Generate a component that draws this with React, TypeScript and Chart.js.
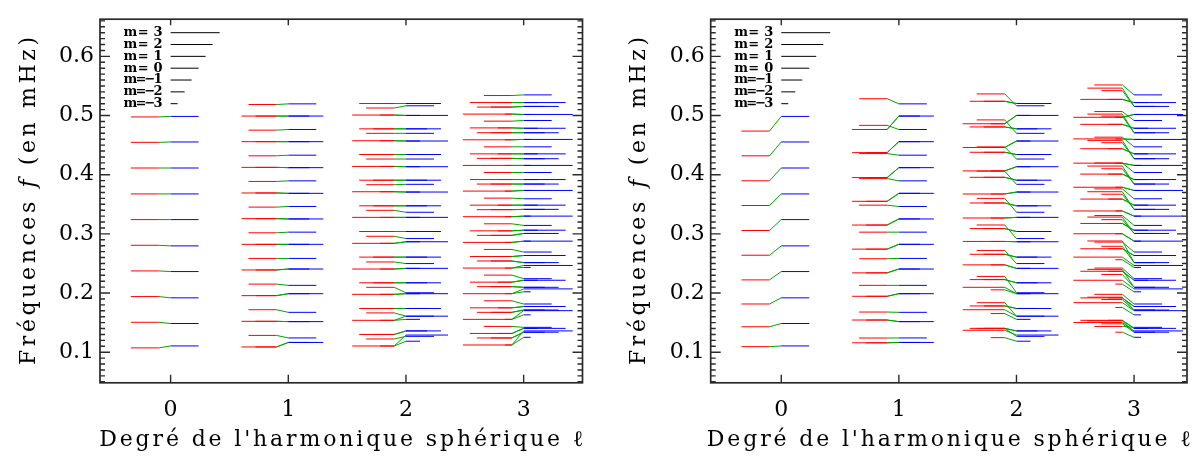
import React, { useEffect, useRef } from 'react';
import { Chart, registerables } from 'chart.js';

Chart.register(...registerables);

// ---------- axes ----------
const degreeTicks = [0, 1, 2, 3];
const freqMajorTicks = [0.1, 0.2, 0.3, 0.4, 0.5, 0.6];
const freqMin = 0.0483;
const freqMax = 0.6628;
const degreeMin = -0.6;
const degreeMaxLeft = 3.5;
const degreeMaxRight = 3.45;

// ---------- legend ----------
const legendOrders = [3, 2, 1, 0, -1, -2, -3];
const legendLabels = ['m= 3', 'm= 2', 'm= 1', 'm= 0', 'm=\u22121', 'm=\u22122', 'm=\u22123'];
const legendFreqs = [0.64, 0.62, 0.6, 0.58, 0.56, 0.54, 0.52];

// ---------- blue frequencies (mHz), radial orders n=1..10, shared by both panels ----------
const blueL0 = [0.1106, 0.1485, 0.1919, 0.2363, 0.2797, 0.3241, 0.3675, 0.4113, 0.4553, 0.4985];
const blueL1m0 = [0.1241, 0.1674, 0.213, 0.2585, 0.3029, 0.3463, 0.3896, 0.433, 0.4764, 0.5197];
const blueL1m1 = [0.1165, 0.1517, 0.1989, 0.2406, 0.2823, 0.3252, 0.3685, 0.4119, 0.4558, 0.4991];
const blueL2m0 = [0.1268, 0.1609, 0.2005, 0.2498, 0.2921, 0.3365, 0.3837, 0.4265, 0.4699, 0.5165];
const blueL2m1 = [0.136, 0.1739, 0.2173, 0.2607, 0.304, 0.3474, 0.3907, 0.4341, 0.4775, 0.5203];
const blueL2m2 = [0.129, 0.1609, 0.1989, 0.2417, 0.2867, 0.3279, 0.3707, 0.4135, 0.4569, 0.5002];
const blueL2mNeg2 = [0.1186, 0.1555, 0.1989, 0.2417, 0.2867, 0.3279, 0.3707, 0.4135, 0.4569, 0.5002];
const blueL3m0 = [0.142, 0.1815, 0.2243, 0.2693, 0.3143, 0.3593, 0.4037, 0.4471, 0.4916, 0.5349];
const blueL3m1 = [0.1338, 0.1713, 0.2097, 0.2514, 0.3007, 0.3414, 0.3842, 0.427, 0.4709, 0.5154];
const blueL3m2 = [0.1403, 0.1772, 0.2216, 0.2634, 0.3062, 0.3485, 0.3918, 0.4352, 0.4785, 0.5219];
const blueL3m3 = [0.136, 0.1702, 0.207, 0.2466, 0.2877, 0.33, 0.3734, 0.4157, 0.4596, 0.5018];
const blueL3mNeg3 = [0.1252, 0.1631, 0.2021, 0.2433, 0.2877, 0.33, 0.3734, 0.4157, 0.4596, 0.5018];

// ---------- red frequencies, left panel ----------
const redA_L0 = [0.1073, 0.1506, 0.194, 0.2374, 0.2807, 0.3241, 0.3675, 0.4113, 0.4547, 0.4976];
const redA_L1m0 = [0.1284, 0.1718, 0.2151, 0.2585, 0.3018, 0.3452, 0.3886, 0.4319, 0.4753, 0.5186];
const redA_L1m1 = [0.1089, 0.1522, 0.1956, 0.239, 0.2823, 0.3257, 0.3691, 0.4124, 0.4558, 0.4991];
const redA_L2m0 = [0.1224, 0.1664, 0.2097, 0.2525, 0.2959, 0.3398, 0.3831, 0.4265, 0.4699, 0.5127];
const redA_L2m1 = [0.13, 0.1739, 0.2173, 0.2607, 0.304, 0.3474, 0.3907, 0.4341, 0.4775, 0.5203];
const redA_L2m2 = [0.1105, 0.1539, 0.1978, 0.2406, 0.284, 0.3279, 0.3712, 0.414, 0.4574, 0.5008];
const redA_L3m0 = [0.1436, 0.1869, 0.2303, 0.2737, 0.317, 0.3604, 0.4037, 0.4471, 0.4905, 0.5338];
const redA_L3m1 = [0.1241, 0.1674, 0.2108, 0.2542, 0.2975, 0.3409, 0.3842, 0.4276, 0.4709, 0.5143];
const redA_L3m2 = [0.1317, 0.175, 0.2184, 0.2617, 0.3051, 0.3485, 0.3918, 0.4352, 0.4791, 0.5219];
const redA_L3m3 = [0.1122, 0.1555, 0.1989, 0.2422, 0.2856, 0.329, 0.3723, 0.4157, 0.459, 0.5024];

// ---------- red frequencies, right panel ----------
const redB_L0 = [0.1094, 0.143, 0.1815, 0.2222, 0.2639, 0.3057, 0.3479, 0.3897, 0.4319, 0.4737];
const redB_L1m0 = [0.124, 0.1679, 0.213, 0.258, 0.3029, 0.3485, 0.3934, 0.4357, 0.4834, 0.5284];
const redB_L1m1 = [0.1159, 0.1544, 0.1945, 0.2341, 0.2742, 0.3149, 0.355, 0.3951, 0.4373, 0.4764];
const redB_L2m0 = [0.1403, 0.1837, 0.2281, 0.272, 0.315, 0.36, 0.406, 0.447, 0.4926, 0.5365];
const redB_L2m1 = [0.1403, 0.1782, 0.2227, 0.2655, 0.3089, 0.3522, 0.3956, 0.4379, 0.4807, 0.5241];
const redB_L2m2 = [0.1371, 0.1718, 0.2097, 0.2476, 0.2872, 0.3268, 0.3674, 0.4064, 0.446, 0.4861];
const redB_L2mNeg2 = [0.1246, 0.1653, 0.2054, 0.2476, 0.2872, 0.3268, 0.3674, 0.4064, 0.446, 0.4861];
const redB_L3m0 = [0.1436, 0.1978, 0.2422, 0.2861, 0.331, 0.376, 0.4197, 0.4634, 0.5067, 0.5517];
const redB_L3m1 = [0.153, 0.193, 0.24, 0.288, 0.3284, 0.3712, 0.4146, 0.458, 0.5024, 0.5463];
const redB_L3mNeg1 = [0.148, 0.189, 0.2314, 0.279, 0.324, 0.367, 0.41, 0.454, 0.499, 0.542];
const redB_L3m2 = [0.1539, 0.1918, 0.2368, 0.2748, 0.3176, 0.3588, 0.401, 0.4439, 0.4851, 0.5273];
const redB_L3m3 = [0.1501, 0.1837, 0.2216, 0.2607, 0.3002, 0.3387, 0.3788, 0.4195, 0.4605, 0.497];
const redB_L3mNeg3 = [0.1338, 0.1756, 0.2151, 0.2563, 0.3002, 0.3387, 0.3788, 0.4195, 0.4605, 0.497];

type Mode = { l: number; m: number; red: number[]; blue: number[] };

const modesLeft: Mode[] = [
  { l: 0, m: 0, red: redA_L0, blue: blueL0 },
  { l: 1, m: 1, red: redA_L1m1, blue: blueL1m1 },
  { l: 1, m: 0, red: redA_L1m0, blue: blueL1m0 },
  { l: 1, m: -1, red: redA_L1m1, blue: blueL1m1 },
  { l: 2, m: 2, red: redA_L2m2, blue: blueL2m2 },
  { l: 2, m: 1, red: redA_L2m1, blue: blueL2m1 },
  { l: 2, m: 0, red: redA_L2m0, blue: blueL2m0 },
  { l: 2, m: -1, red: redA_L2m1, blue: blueL2m1 },
  { l: 2, m: -2, red: redA_L2m2, blue: blueL2mNeg2 },
  { l: 3, m: 3, red: redA_L3m3, blue: blueL3m3 },
  { l: 3, m: 2, red: redA_L3m2, blue: blueL3m2 },
  { l: 3, m: 1, red: redA_L3m1, blue: blueL3m1 },
  { l: 3, m: 0, red: redA_L3m0, blue: blueL3m0 },
  { l: 3, m: -1, red: redA_L3m1, blue: blueL3m1 },
  { l: 3, m: -2, red: redA_L3m2, blue: blueL3m2 },
  { l: 3, m: -3, red: redA_L3m3, blue: blueL3mNeg3 },
];

const modesRight: Mode[] = [
  { l: 0, m: 0, red: redB_L0, blue: blueL0 },
  { l: 1, m: 1, red: redB_L1m1, blue: blueL1m1 },
  { l: 1, m: 0, red: redB_L1m0, blue: blueL1m0 },
  { l: 1, m: -1, red: redB_L1m1, blue: blueL1m1 },
  { l: 2, m: 2, red: redB_L2m2, blue: blueL2m2 },
  { l: 2, m: 1, red: redB_L2m1, blue: blueL2m1 },
  { l: 2, m: 0, red: redB_L2m0, blue: blueL2m0 },
  { l: 2, m: -1, red: redB_L2m1, blue: blueL2m1 },
  { l: 2, m: -2, red: redB_L2mNeg2, blue: blueL2mNeg2 },
  { l: 3, m: 3, red: redB_L3m3, blue: blueL3m3 },
  { l: 3, m: 2, red: redB_L3m2, blue: blueL3m2 },
  { l: 3, m: 1, red: redB_L3m1, blue: blueL3m1 },
  { l: 3, m: 0, red: redB_L3m0, blue: blueL3m0 },
  { l: 3, m: -1, red: redB_L3mNeg1, blue: blueL3m1 },
  { l: 3, m: -2, red: redB_L3m2, blue: blueL3m2 },
  { l: 3, m: -3, red: redB_L3mNeg3, blue: blueL3mNeg3 },
];

// ---------- style ----------
const RED = '#ff0000';
const GREEN = '#00a400';
const BLUE = '#0000ff';
const AXIS = '#2a2a2a';
const SERIF = '"DejaVu Serif", "Liberation Serif", serif';
const LEN_STEP = 0.0595; // segment length per m step (x units)
const RED_GAP = 0.1;
const CANVAS_W = 602;
const CANVAS_H = 459;
const PLOT_TOP = 4.7;
const PLOT_BOTTOM = 382.8;

const segLen = (m: number) => (m + 4) * LEN_STEP;

function buildSegments(modes: Mode[]) {
  const red: any[] = [];
  const green: any[] = [];
  const blue: any[] = [];
  for (const md of modes) {
    const L = segLen(md.m);
    const xr0 = md.l - RED_GAP - L;
    const xr1 = md.l - RED_GAP;
    const xb0 = md.l;
    const xb1 = md.l + L;
    md.red.forEach((r, i) => {
      const b = md.blue[i];
      red.push({ x: xr0, y: r }, { x: xr1, y: r }, { x: xr1, y: null });
      green.push({ x: xr1, y: r }, { x: xb0, y: b }, { x: xb0, y: null });
      blue.push({ x: xb0, y: b }, { x: xb1, y: b }, { x: xb1, y: null });
    });
  }
  return { red, green, blue };
}

function buildLegend() {
  const pts: any[] = [];
  legendOrders.forEach((m, i) => {
    pts.push({ x: 0, y: legendFreqs[i] }, { x: segLen(m), y: legendFreqs[i] }, { x: segLen(m), y: null });
  });
  return pts;
}

type Part = { t: string; italic?: boolean; bold?: boolean };

function drawSpaced(
  ctx: CanvasRenderingContext2D,
  parts: Part[],
  x: number,
  y: number,
  target: number,
  size: number,
  rotate: boolean,
  centered: boolean
) {
  const chars: { ch: string; font: string }[] = [];
  for (const p of parts) {
    for (const ch of Array.from(p.t)) {
      chars.push({ ch, font: `${p.italic ? 'italic ' : ''}${p.bold ? 'bold ' : ''}${size}px ${SERIF}` });
    }
  }
  let natural = 0;
  const widths = chars.map((c) => {
    ctx.font = c.font;
    const w = ctx.measureText(c.ch).width;
    natural += w;
    return w;
  });
  const gap = (target - natural) / Math.max(1, chars.length - 1);
  ctx.save();
  ctx.translate(x, y);
  if (rotate) ctx.rotate(-Math.PI / 2);
  ctx.textBaseline = 'middle';
  ctx.textAlign = 'left';
  ctx.fillStyle = '#000';
  let cx = centered ? -target / 2 : 0;
  chars.forEach((c, i) => {
    ctx.font = c.font;
    ctx.fillText(c.ch, cx, 0);
    cx += widths[i] + gap;
  });
  ctx.restore();
}

function makeFramePlugin() {
  return {
    id: 'frameAndTitles',
    afterDraw(chart: any) {
      const { ctx, chartArea: a, scales } = chart;
      const xs = scales.x;
      const ys = scales.y;
      ctx.save();
      ctx.strokeStyle = AXIS;
      ctx.lineWidth = 1.7;
      ctx.strokeRect(a.left, a.top, a.right - a.left, a.bottom - a.top);
      ctx.lineWidth = 1.4;
      ctx.beginPath();
      for (const v of degreeTicks) {
        const px = xs.getPixelForValue(v);
        ctx.moveTo(px, a.bottom);
        ctx.lineTo(px, a.bottom - 8);
        ctx.moveTo(px, a.top);
        ctx.lineTo(px, a.top + 6);
      }
      for (let i = 1; i <= 70; i++) {
        const v = i / 100;
        const py = ys.getPixelForValue(v);
        if (py < a.top + 1 || py > a.bottom - 1) continue;
        const len = i % 10 === 0 ? 10 : 5;
        ctx.moveTo(a.left, py);
        ctx.lineTo(a.left + len, py);
        ctx.moveTo(a.right, py);
        ctx.lineTo(a.right - len, py);
      }
      ctx.stroke();
      ctx.restore();

      // legend labels
      const x0 = xs.getPixelForValue(0);
      legendLabels.forEach((lab, i) => {
        const py = ys.getPixelForValue(legendFreqs[i]);
        drawSpaced(ctx, [{ t: lab, bold: true }], x0 - 47, py, 39, 13, false, false);
      });

      // axis titles
      drawSpaced(
        ctx,
        [{ t: "Degré de l'harmonique sphérique \u2113" }],
        (a.left + a.right) / 2,
        440,
        484,
        22,
        false,
        true
      );
      drawSpaced(
        ctx,
        [{ t: 'Fréquences ' }, { t: 'f', italic: true }, { t: ' (en mHz)' }],
        a.left - 71,
        (a.top + a.bottom) / 2,
        328,
        22,
        true,
        true
      );
    },
  };
}

function makeConfig(modes: Mode[], xMax: number, plotLeft: number, plotRight: number): any {
  const seg = buildSegments(modes);
  const common = { pointRadius: 0, borderWidth: 1, spanGaps: false, fill: false, tension: 0 };
  return {
    type: 'line',
    data: {
      datasets: [
        { ...common, data: seg.red, borderColor: RED },
        { ...common, data: seg.green, borderColor: GREEN },
        { ...common, data: seg.blue, borderColor: BLUE },
        { ...common, data: buildLegend(), borderColor: '#000' },
      ],
    },
    options: {
      animation: false,
      responsive: false,
      devicePixelRatio: 1,
      events: [],
      layout: { padding: { left: 0, top: PLOT_TOP, right: CANVAS_W - plotRight, bottom: 0 } },
      plugins: { legend: { display: false }, tooltip: { enabled: false }, title: { display: false } },
      scales: {
        x: {
          type: 'linear',
          min: degreeMin,
          max: xMax,
          grid: { display: false, drawTicks: false },
          border: { display: false },
          afterBuildTicks: (s: any) => {
            s.ticks = degreeTicks.map((v) => ({ value: v }));
          },
          afterFit: (s: any) => {
            s.height = CANVAS_H - PLOT_BOTTOM;
          },
          ticks: {
            autoSkip: false,
            maxRotation: 0,
            padding: 14,
            color: '#000',
            font: { family: SERIF, size: 22 },
            callback: (v: any) => String(v),
          },
        },
        y: {
          type: 'linear',
          min: freqMin,
          max: freqMax,
          grid: { display: false, drawTicks: false },
          border: { display: false },
          afterBuildTicks: (s: any) => {
            s.ticks = freqMajorTicks.map((v) => ({ value: v }));
          },
          afterFit: (s: any) => {
            s.width = plotLeft;
          },
          ticks: {
            autoSkip: false,
            padding: 6,
            color: '#000',
            font: { family: SERIF, size: 22 },
            callback: (v: any) => Number(v).toFixed(1),
          },
        },
      },
    },
    plugins: [makeFramePlugin()],
  };
}

function Panel(props: { modes: Mode[]; xMax: number; plotLeft: number; plotRight: number; offset: number }) {
  const ref = useRef<HTMLCanvasElement | null>(null);
  useEffect(() => {
    if (!ref.current) return;
    const chart = new Chart(ref.current, makeConfig(props.modes, props.xMax, props.plotLeft, props.plotRight));
    return () => chart.destroy();
  }, []);
  return (
    <div style={{ position: 'absolute', left: props.offset, top: 0, width: CANVAS_W, height: CANVAS_H }}>
      <canvas ref={ref} width={CANVAS_W} height={CANVAS_H} style={{ display: 'block', width: CANVAS_W, height: CANVAS_H }} />
    </div>
  );
}

export default function App() {
  return (
    <div style={{ position: 'absolute', left: 0, top: 0, width: 1204, height: 459, background: '#fff', overflow: 'hidden' }}>
      <Panel modes={modesLeft} xMax={degreeMaxLeft} plotLeft={100} plotRight={582.5} offset={0} />
      <Panel modes={modesRight} xMax={degreeMaxRight} plotLeft={108.7} plotRight={585} offset={602} />
    </div>
  );
}
